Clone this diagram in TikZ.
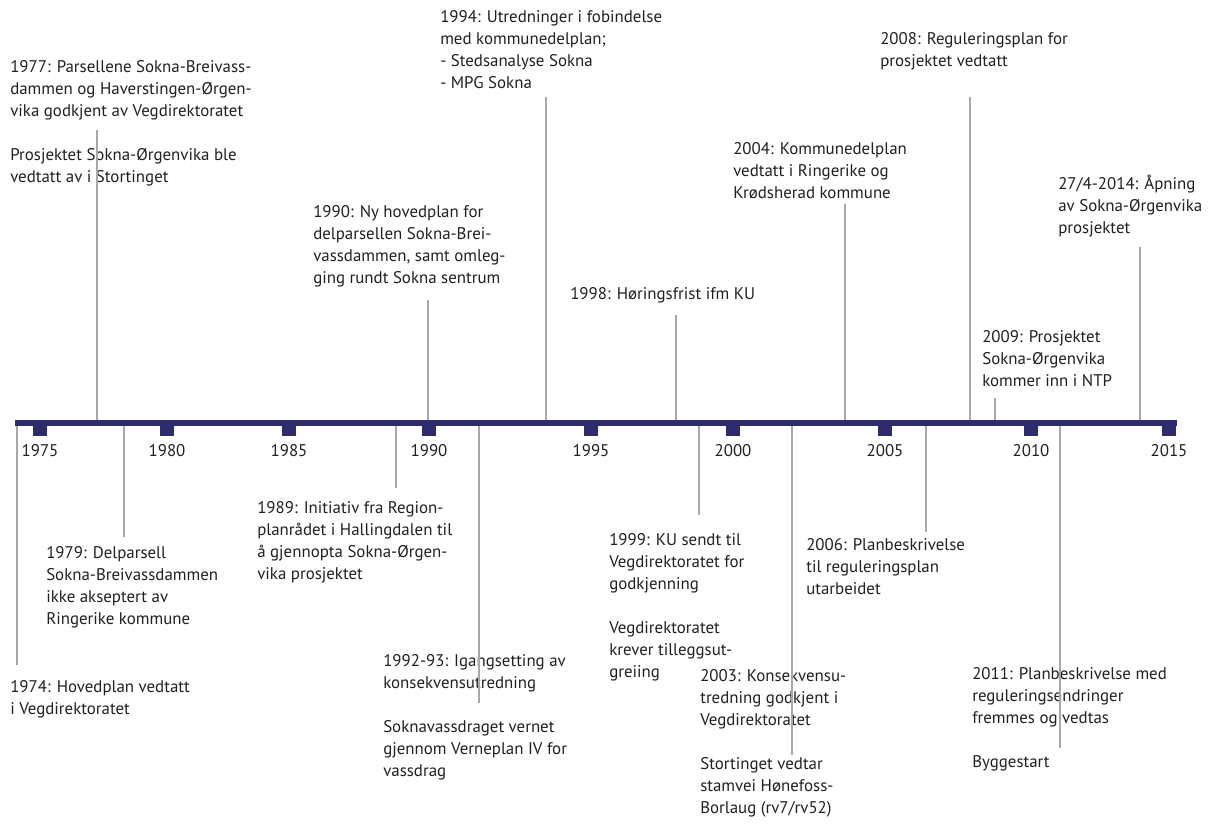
\documentclass[tikz,border=0pt]{standalone}
\usepackage{fontspec}
\setmainfont{PT Sans}
\usetikzlibrary{positioning}
\definecolor{tlNavy}{HTML}{2E2B6E}
\definecolor{tlGray}{HTML}{A8A8A8}
\definecolor{tlInk}{HTML}{231F20}
\newcommand{\avsnitt}{\\[16pt]}

\begin{document}
\begin{tikzpicture}[
  x=0.025cm, y=-0.025cm,
  font=\fontsize{12}{15.6}\selectfont,
  hendelse/.style={anchor=north west, inner sep=0pt, align=left, text=tlInk,
                   execute at begin node={\strut}},
  aar/.style={inner sep=0pt, text=tlInk},
  merke/.style={fill=tlNavy, inner sep=0pt, minimum width=0.34cm, minimum height=0.26cm, anchor=north},
  strek/.style={draw=tlGray, line width=0.8pt},
  akse/.style={draw=tlNavy, line width=0.13cm},
]
\useasboundingbox (0,0) rectangle (1223,824);

% ---- Hendelser over aksen ----
\node[hendelse] (h1977) at (10,60)
     {1977: Parsellene Sokna-Breivass-\\dammen og Haverstingen-Ørgen-\\vika godkjent av Vegdirektoratet\avsnitt
      Prosjektet Sokna-Ørgenvika ble\\vedtatt av i Stortinget};
\node[hendelse] (h1990) at (313,205)
     {1990: Ny hovedplan for\\delparsellen Sokna-Brei-\\vassdammen, samt omleg-\\ging rundt Sokna sentrum};
\node[hendelse] (h1994) at (440,10)
     {1994: Utredninger i fobindelse\\med kommunedelplan;\\- Stedsanalyse Sokna\\- MPG Sokna};
\node[hendelse] (h1998) at (570,284) {1998: Høringsfrist ifm KU};
\node[hendelse] (h2004) at (733,142)
     {2004: Kommunedelplan\\vedtatt i Ringerike og\\Krødsherad kommune};
\node[hendelse] (h2008) at (880,32)
     {2008: Reguleringsplan for\\prosjektet vedtatt};
\node[hendelse] (h2009) at (982,330)
     {2009: Prosjektet\\Sokna-Ørgenvika\\kommer inn i NTP};
\node[hendelse] (h2014) at (1058,175)
     {27/4-2014: Åpning\\av Sokna-Ørgenvika\\prosjektet};

% ---- Hendelser under aksen ----
\node[hendelse] (h1974) at (10,680)
     {1974: Hovedplan vedtatt\\i Vegdirektoratet};
\node[hendelse] (h1979) at (46,546)
     {1979: Delparsell\\Sokna-Breivassdammen\\ikke akseptert av\\Ringerike kommune};
\node[hendelse] (h1989) at (257,501)
     {1989: Initiativ fra Region-\\planrådet i Hallingdalen til\\å gjennopta Sokna-Ørgen-\\vika prosjektet};
\node[hendelse] (h1992) at (383,654)
     {1992-93: Igangsetting av\\konsekvensutredning\avsnitt
      Soknavassdraget vernet\\gjennom Verneplan IV for\\vassdrag};
\node[hendelse] (h1999) at (609,533)
     {1999: KU sendt til\\Vegdirektoratet for\\godkjenning\avsnitt
      Vegdirektoratet\\krever tilleggsut-\\greiing};
\node[hendelse] (h2003) at (700,669)
     {2003: Konsekvensu-\\tredning godkjent i\\Vegdirektoratet\avsnitt
      Stortinget vedtar\\stamvei Hønefoss-\\Borlaug (rv7/rv52)};
\node[hendelse] (h2006) at (806,538)
     {2006: Planbeskrivelse\\til reguleringsplan\\utarbeidet};
\node[hendelse] (h2011) at (972,667)
     {2011: Planbeskrivelse med\\reguleringsendringer\\fremmes og vedtas\avsnitt Byggestart};

% ---- Streker ----
\foreach \n/\x/\e in {1977/97/130, 1990/428/300, 1994/546/97, 1998/676/315,
                      2004/845/204, 2008/970/97, 2009/995/398, 2014/1140/247,
                      1974/17/665, 1979/124/537, 1989/396/488, 1992/479/703,
                      1999/699/515, 2003/792/755, 2006/926/532, 2011/1060/748} {
  \coordinate (p\n) at (\x,423);
  \coordinate (e\n) at (\x,\e);
  \draw[strek] (p\n) -- (e\n);
}

% ---- Tidsakse ----
\coordinate (axL) at (15,423);
\coordinate (axR) at (1177,423);
\draw[akse] (axL) -- (axR);
\foreach \y/\x in {1975/40, 1980/167, 1985/289, 1990/429, 1995/591,
                   2000/733, 2005/885, 2010/1031, 2015/1169} {
  \node[merke] (t\y) at (\x,425) {};
  \node[aar, below=0.2cm of t\y] (l\y) {\y};
}

\end{tikzpicture}
\end{document}
